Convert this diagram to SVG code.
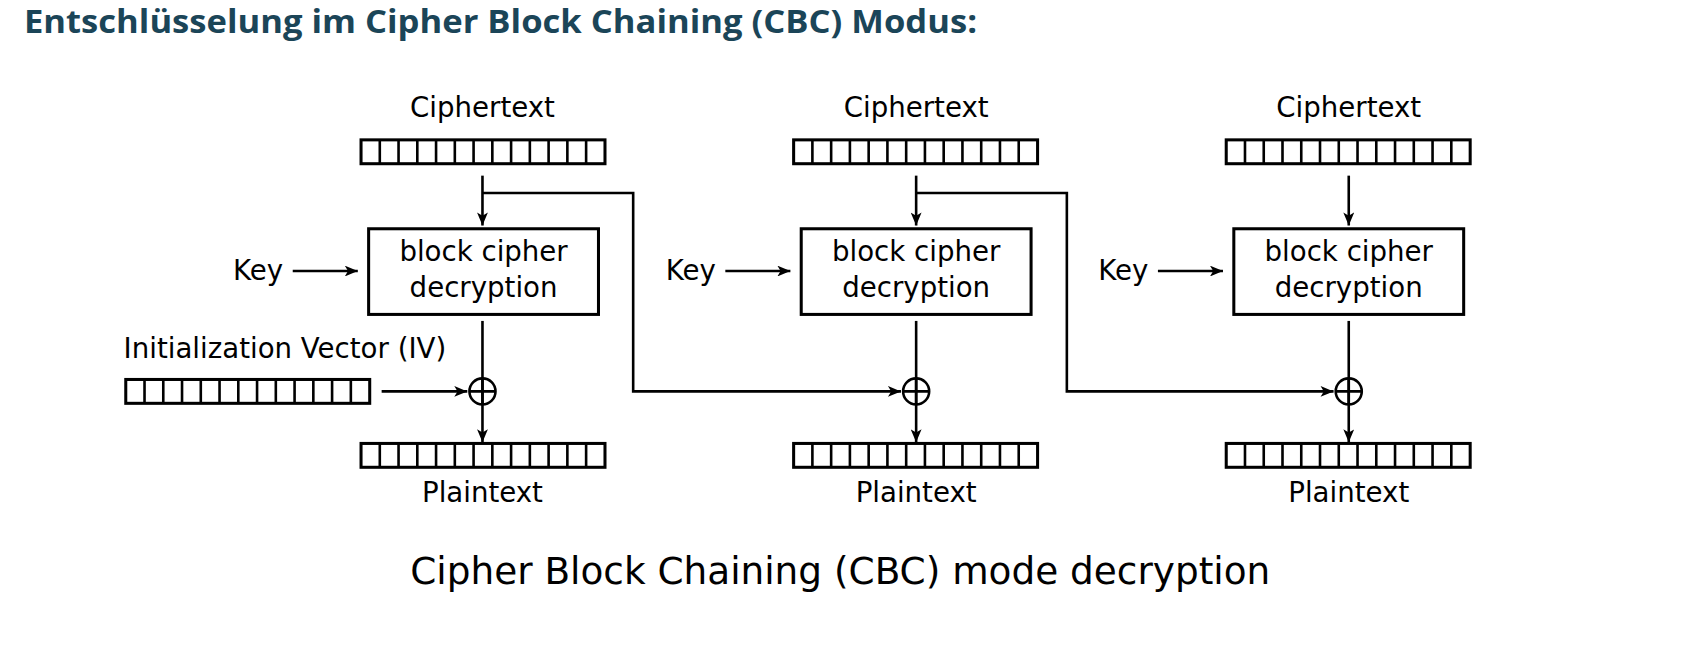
<svg xmlns="http://www.w3.org/2000/svg" xmlns:xlink="http://www.w3.org/1999/xlink" width="1700" height="650" viewBox="0 0 1700 650">
<style>
.t{font-family:"DejaVu Sans",sans-serif;font-size:25.5px;fill:#000}
.ln{stroke:#000;stroke-width:2.4;fill:none}
.bx{stroke:#000;stroke-width:2.8;fill:#fff}
</style>
<defs>
<marker id="ah" viewBox="0 0 12 10" refX="12" refY="5" markerWidth="13" markerHeight="10" markerUnits="userSpaceOnUse" orient="auto"><path d="M0,0 L12,5 L0,10 L3,5 z" fill="#000"/></marker>
<g id="reg"><rect x="0" y="0" width="225" height="22" class="bx"/><path class="ln" d="M17.3,0v22M34.6,0v22M51.9,0v22M69.2,0v22M86.5,0v22M103.8,0v22M121.1,0v22M138.4,0v22M155.7,0v22M173,0v22M190.3,0v22M207.6,0v22"/></g>
<g id="xor"><circle cx="0" cy="0" r="12" class="ln"/><path class="ln" d="M-12,0H12M0,-12V12"/></g>
</defs>
<rect width="1700" height="650" fill="#fff"/>
<text x="24" y="33" font-family="Open Sans, sans-serif" font-weight="bold" font-size="33" fill="#1b4558" textLength="953" lengthAdjust="spacingAndGlyphs">Entschlüsselung im Cipher Block Chaining (CBC) Modus:</text>
<g transform="scale(1.0842)">
<g id="connectors">
<path class="ln" d="M445,162V208" marker-end="url(#ah)"/>
<path class="ln" d="M445,178H584V361H831" marker-end="url(#ah)"/>
<path class="ln" d="M270,250H330" marker-end="url(#ah)" stroke-width="3"/>
<path class="ln" d="M445,296V408" marker-end="url(#ah)"/>
<path class="ln" d="M352,361H431" marker-end="url(#ah)"/>
<path class="ln" d="M845,162V208" marker-end="url(#ah)"/>
<path class="ln" d="M845,178H984V361H1230" marker-end="url(#ah)"/>
<path class="ln" d="M669,250H729" marker-end="url(#ah)" stroke-width="3"/>
<path class="ln" d="M845,296V408" marker-end="url(#ah)" stroke-width="3"/>
<path class="ln" d="M1244,162V208" marker-end="url(#ah)" stroke-width="3"/>
<path class="ln" d="M1068,250H1128" marker-end="url(#ah)" stroke-width="3"/>
<path class="ln" d="M1244,296V408" marker-end="url(#ah)" stroke-width="3"/>
</g>
<g id="col1">
<text class="t" x="445" y="108" text-anchor="middle">Ciphertext</text>
<use xlink:href="#reg" x="333" y="129"/>
<rect class="bx" x="340" y="211" width="212" height="79"/>
<text class="t" x="446" y="241" text-anchor="middle">block cipher</text>
<text class="t" x="446" y="274" text-anchor="middle">decryption</text>
<text class="t" x="215" y="258">Key</text>
<use xlink:href="#xor" x="445" y="361"/>
<use xlink:href="#reg" x="333" y="409"/>
<text class="t" x="445" y="463" text-anchor="middle">Plaintext</text>
</g>
<g id="iv">
<text class="t" x="114" y="330">Initialization Vector (IV)</text>
<use xlink:href="#reg" x="116" y="350"/>
</g>
<g id="col2">
<text class="t" x="845" y="108" text-anchor="middle">Ciphertext</text>
<use xlink:href="#reg" x="732" y="129"/>
<rect class="bx" x="739" y="211" width="212" height="79"/>
<text class="t" x="845" y="241" text-anchor="middle">block cipher</text>
<text class="t" x="845" y="274" text-anchor="middle">decryption</text>
<text class="t" x="614" y="258">Key</text>
<use xlink:href="#xor" x="845" y="361"/>
<use xlink:href="#reg" x="732" y="409"/>
<text class="t" x="845" y="463" text-anchor="middle">Plaintext</text>
</g>
<g id="col3">
<text class="t" x="1244" y="108" text-anchor="middle">Ciphertext</text>
<use xlink:href="#reg" x="1131" y="129"/>
<rect class="bx" x="1138" y="211" width="212" height="79"/>
<text class="t" x="1244" y="241" text-anchor="middle">block cipher</text>
<text class="t" x="1244" y="274" text-anchor="middle">decryption</text>
<text class="t" x="1013" y="258">Key</text>
<use xlink:href="#xor" x="1244" y="361"/>
<use xlink:href="#reg" x="1131" y="409"/>
<text class="t" x="1244" y="463" text-anchor="middle">Plaintext</text>
</g>
<text x="775" y="539" text-anchor="middle" font-family="DejaVu Sans, sans-serif" font-size="34.5">Cipher Block Chaining (CBC) mode decryption</text>
</g>
</svg>
